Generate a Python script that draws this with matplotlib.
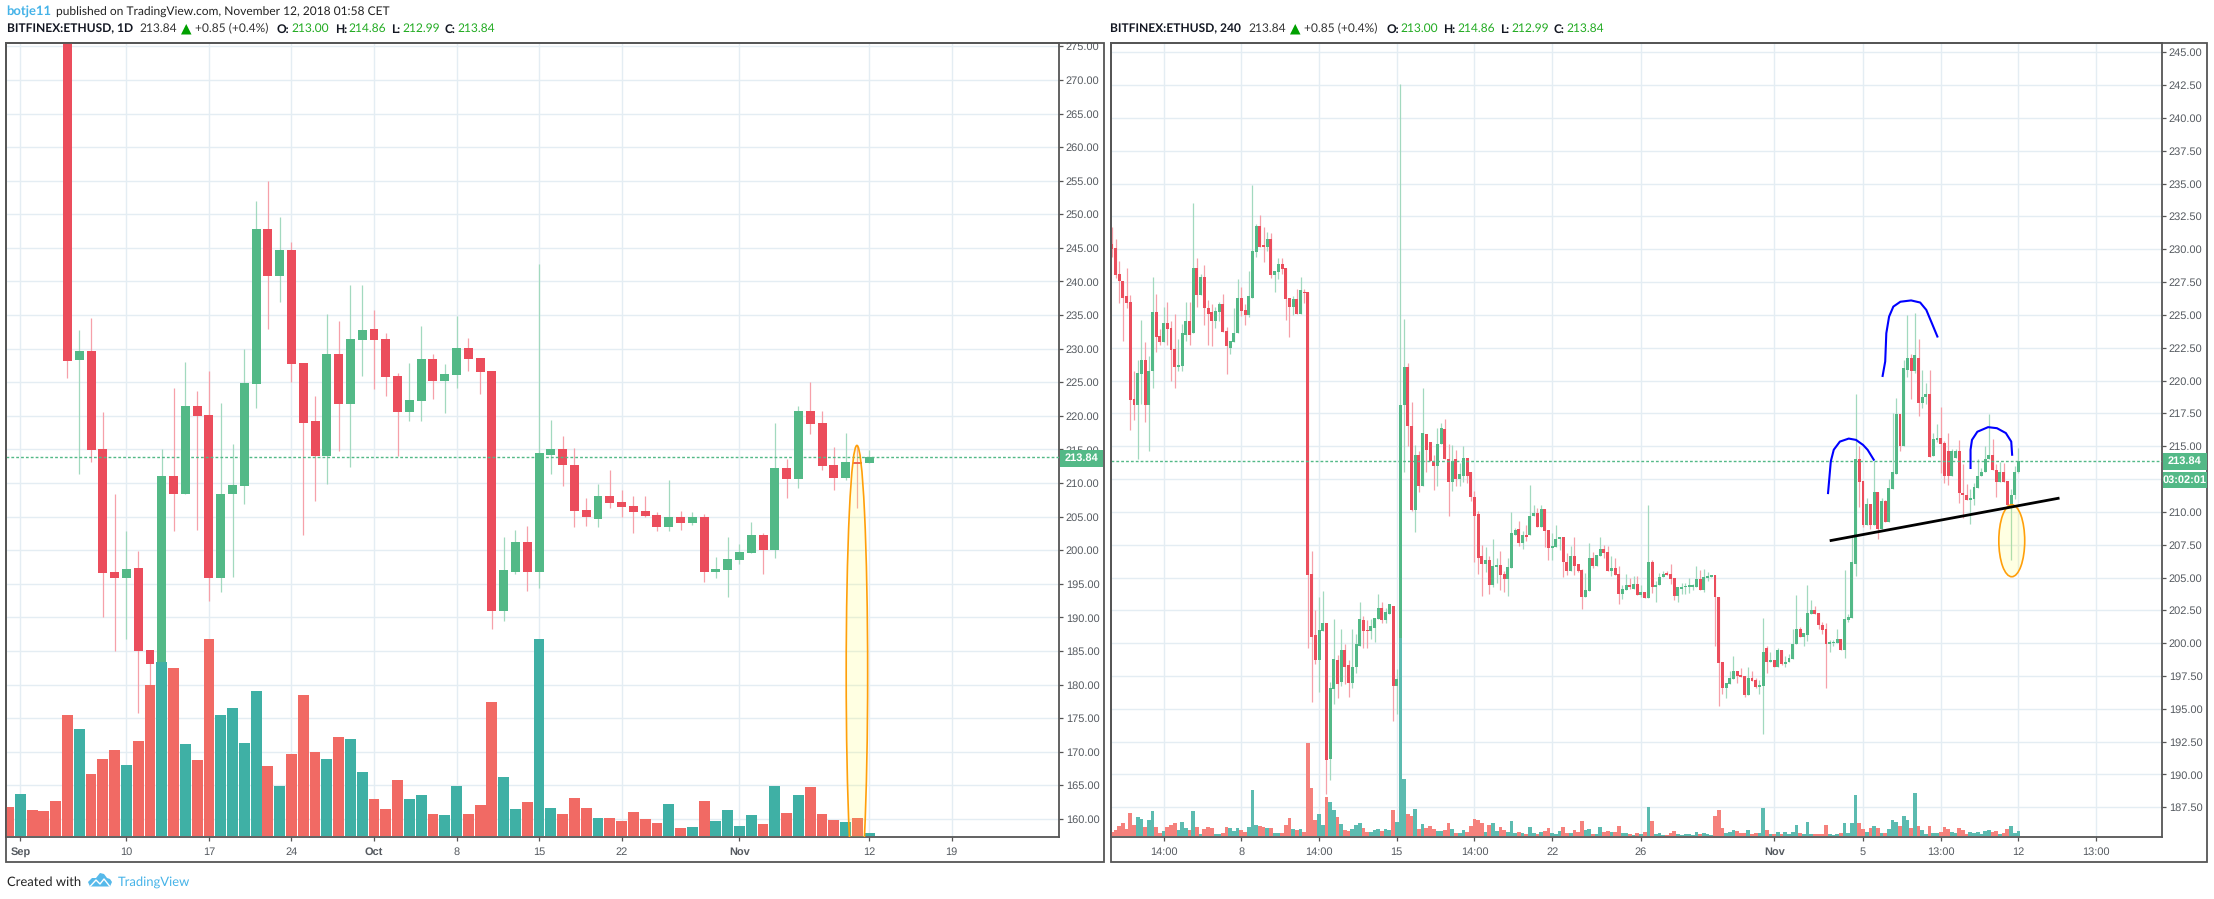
import numpy as np
import matplotlib
matplotlib.use("Agg")
import matplotlib.pyplot as plt
from matplotlib.patches import Ellipse, Rectangle, Polygon
from matplotlib.lines import Line2D

plt.rcParams["text.hinting"] = "no_hinting"
plt.rcParams["text.hinting_factor"] = 1

W, H = 2214, 899

# ---- daily chart (left); first candle is bar 4 = Sep 5
l_first = 4
l_open = [288,228.3,229.6,215,196.7,195.9,197.4,185.2,183,211.1,
          208.3,221.45,220.1,195.9,208.3,209.6,224.7,247.8,240.8,244.7,
          227.85,219.2,214,229.2,221.75,231.3,232.9,231.4,225.9,220.6,
          222.2,228.4,225.2,226.1,230.1,228.6,226.7,191,196.8,201.3,
          196.7,214.2,215,212.7,206,204.7,208.1,207.2,206.6,205.9,
          205.3,203.5,205,204.1,205,196.8,197.1,198.6,199.6,202.2,
          200.1,212.3,210.6,220.7,218.9,212.7,210.8,213.2,213]
l_high = [288,232.8,234.6,220.6,208.4,202.8,199.9,185.2,215.1,224.2,
          228,223.7,226.7,221.9,215.8,229.9,252,255,249.6,245.9,
          227.85,222.9,235.1,234.1,239.5,239.5,235.7,232.3,226.4,227.9,
          233.4,229.2,227.7,234.8,231.6,228.6,226.7,201.9,203,203.65,
          242.6,219.4,217,215.2,207.8,209.9,212,208.9,208,208,
          205.7,210.5,205.9,205.7,205.4,199,201.9,201,204.25,202.5,
          218.9,213.6,221.45,225,220.7,215.3,217.5,215.6,214.86]
l_low = [225.7,211.3,213.2,190,185.05,186.8,175.8,167.3,183,202.9,
         208.3,203,192.5,193.8,196,206.9,221.2,232.9,236.9,225,
         202.3,207.4,209.9,214.7,212.4,225.9,224,222.9,214,219.2,
         219.2,222.5,220.4,224.1,226.7,223.2,188.3,189.5,196.5,194,
         194.4,211.4,209.6,203.5,203.65,203.5,206.3,205,202.5,205,
         202.9,202.8,203.05,203.8,195.2,195.9,193.1,198,199.6,196.5,
         198.9,207.8,209.2,217.3,212,209,210.5,206.3,212.99]
l_close = [228.2,229.6,214.9,196.6,195.8,197.25,185.05,183,211.1,208.3,
           221.45,220,195.9,208.4,209.75,224.9,247.8,240.8,244.7,227.7,
           219,214,229.2,221.75,231.4,232.8,231.3,225.8,220.6,222.3,
           228.4,225.2,226.2,230.1,228.4,226.5,191,197,201.3,196.7,
           214.4,215,212.7,205.9,204.9,208.1,207.1,206.5,205.7,205.1,
           203.5,205,204.1,205,196.8,197.25,198.75,199.8,202.2,200.1,
           212.3,210.6,220.7,218.8,212.6,210.8,213.2,212.9,213.84]
# volume, relative units; first bar is -1 (Aug 31)
l_vol_first = -1
l_vol = [87,126,78,75,105,363,321,186,231,258,213,285,453,522,504,276,228,591,363,384,
         279,435,210,150,246,423,252,231,297,291,192,111,81,168,111,123,66,63,150,66,
         93,402,177,81,102,591,84,66,114,84,54,54,45,72,51,39,96,24,27,105,
         45,78,30,63,36,150,69,123,147,66,48,42,54,9]
l_vol_early_up = [False,True,False,False,False]
l_ticks = [0,9,16,23,30,37,44,51,61,72,79]
l_tick_labels = ["Sep","10","17","24","Oct","8","15","22","Nov","12","19"]
l_bold = ["Sep","Oct","Nov"]
l_price_ticks = list(range(160,276,5))

# ---- 240 minute chart (right)
r_open = [230.4,230.1,228.1,227.6,226.4,226,218.6,218.1,220.5,221.6,
 218.1,220.7,225.2,223.4,222.9,224.4,224,222.4,221,221.1,
 223.5,224.5,223.6,228.6,226.5,227.9,225.5,225.2,224.5,225.2,
 225.8,223.8,222.5,222.9,223.6,226.3,225.4,225,226.3,229.8,
 231.8,230.25,230.2,230.8,228,228.3,228.9,228.6,226.3,225.6,
 226.2,225.1,226.75,226.75,205.3,200.6,198.7,200.95,201.55,191.2,
 196.5,198.75,197.05,199.5,198.3,197,198.15,199.8,201.8,201,
 200.9,201.15,201.85,202.7,201.8,202.25,202.85,196.75,197.2,218.15,
 221,216.55,210.15,214.35,211.95,215.95,215.3,213.85,213.5,215.15,
 216.3,214.05,212.3,214,212.5,212.75,214.1,213,211.15,209.85,
 206.6,206.05,206.35,204.4,205.8,205.95,205.3,204.9,205.75,208.25,
 208.7,207.65,208.25,208.2,209.65,209.95,208.85,210.25,208.65,207.25,
 207.35,207.9,208.05,206.2,205.5,206.6,206,205.6,203.55,204,
 206.5,205.9,206.65,207.2,206.95,205.5,205.75,205.3,203.75,204.05,
 204.4,204.15,204.5,203.7,203.9,203.45,206.15,204.25,204.4,205.05,
 205.3,205.3,205,203.6,204.15,204.25,204.3,204.3,204.25,204.9,
 204.05,205,205.05,205.2,203.55,198.6,196.55,196.9,197.3,197.9,
 197.6,197.5,196.05,197.35,197.2,196.7,196.75,199.6,198.6,198.75,
 198.15,199.45,198.4,198.6,198.8,199.9,201.05,200.5,200.65,202.25,
 202.55,202.3,201.4,201.1,199.95,200,200,200.35,199.5,201.8,
 201.95,206.05,214.05,212.35,209,210.6,209,211.5,208.7,210.85,
 209.2,211.75,212.9,217.45,215,220.8,221.7,220.75,221.7,218.3,
 218.75,219,214.25,215.5,215.65,215.25,214.6,212.7,214.1,214.6,
 211.45,211.3,210.9,211,211.85,212.7,213.05,214.05,214.35,213.2,
 212.3,213.05,212.35,210.55,211.3,213.0]
r_close = [230,228.05,227.6,226.3,225.9,218.5,218.1,220.6,221.6,218.1,
 220.7,225.2,223.3,222.9,224.4,223.9,222.3,221,221.2,223.6,
 224.5,223.5,228.6,226.5,227.9,225.5,225.1,224.5,225.3,225.8,
 223.7,222.6,223,223.6,226.3,225.3,225,226.4,229.9,231.8,
 230.2,230.2,230.8,228,228.35,228.9,228.5,226.2,225.6,226.2,
 225.1,226.9,226.65,205.2,200.5,198.7,201,201.55,191.1,196.6,
 198.8,196.9,199.5,198.2,197,198.15,199.9,201.85,200.95,200.9,
 201.3,201.95,202.7,201.8,202.4,202.95,196.75,197.3,218.15,221,
 216.5,210.15,214.35,211.95,216,214.7,213.85,213.5,215.15,216.4,
 214,212.3,213.9,212.5,212.9,214.1,212.75,211.1,209.7,206.5,
 206.05,206.35,204.4,205.9,205.95,205.2,204.9,205.8,208.4,208.65,
 207.65,208.25,208.1,209.7,209.95,208.85,210.25,208.55,207.25,207.4,
 207.9,208.05,206.15,205.5,206.6,205.9,205.5,203.55,204.05,206.5,
 205.9,206.75,207.2,206.9,205.5,205.75,205.2,203.75,204.15,204.4,
 204.25,204.5,203.7,203.9,203.45,206.15,204.25,204.4,205.05,205.3,
 205.2,204.9,203.6,204.25,204.3,204.35,204.4,204.45,204.9,204.05,
 205.05,205.05,205.2,203.5,198.5,196.55,197,197.35,197.9,197.5,
 197.45,196.05,197.35,197.15,196.7,196.85,199.35,198.6,198.75,198.15,
 199.45,198.4,198.6,198.9,199.9,201.05,200.5,200.75,202.3,202.55,
 202.25,201.4,201,199.9,200.1,200.1,200.35,199.5,201.85,202,
 206.15,214.05,212.3,209,210.6,209,211.5,208.7,210.85,209.2,
 211.85,213,217.45,215,220.95,221.7,220.75,221.95,218.3,218.75,
 219,214.2,215.55,215.65,215.2,212.7,212.7,214.6,214.6,211.4,
 211.25,210.9,211.05,211.9,212.75,213.05,214.05,214.35,213.2,212.3,
 213.05,212.3,210.55,211.3,213.05,213.84]
r_high = [231.7,230.8,229.1,227.6,228.6,226.5,220.7,221.6,224.6,222.9,
 221.9,227.9,226.6,223.9,225.6,226,224.5,225.1,223.2,224.3,
 226,226,233.5,229.3,228.1,228.8,226.1,225.8,225.6,226,
 226.6,224.1,223,225.5,227.7,227.1,225.8,228.35,234.9,231.9,
 232.6,231.7,231.3,231.2,228.35,229.3,229.3,228.6,226.3,226.4,
 227,227.9,227,226.75,207,202.55,203.5,204,201.55,197.05,
 201.85,199.1,201.1,199.9,198.75,201.1,200.7,203.1,202.1,201.8,
 201.85,201.95,203.75,203.1,202.7,202.95,202.85,198.05,242.6,224.7,
 221.35,218.4,215.1,214.6,219.4,215.95,215.3,214.35,216.4,216.8,
 217.1,215.2,215.1,214.7,213.7,215.05,214.1,213,211.6,210.1,
 207.5,207.3,206.65,207.95,206.5,207,205.5,206.45,210,208.8,
 209.3,208.55,209,212.05,210.55,210.3,210.55,210.25,208.65,208.4,
 209,208.05,208.05,206.9,207.4,208.05,206,205.65,205.35,207.65,
 206.95,206.75,208.05,207.5,207.4,206.6,206.45,205.85,204.4,205.3,
 205,205.15,205.15,204.4,203.9,210.55,206.35,204.7,205.35,205.5,
 205.5,206,205,204.25,204.55,204.6,205,204.5,205.85,205.6,
 205.65,205.45,205.2,205.2,203.55,198.6,197,197.9,199.05,197.9,
 198.1,197.5,198.2,197.85,197.35,197.2,201.95,199.8,199.35,198.75,
 199.6,199.45,199.05,199.15,201.05,203.7,201.25,200.75,204.4,203.25,
 202.85,202.3,201.65,201.5,200.25,200.25,201.05,200.35,205.6,202.2,
 208.05,219,215,212.35,211.05,210.6,213.9,211.5,211.05,210.9,
 212.5,217.5,218.7,217.45,221.6,225,222.05,225.15,223.2,220.8,
 219.8,220.8,216,216.7,218,215.4,216,214.8,214.75,215.5,
 213.65,212.15,211.75,212.2,214,213.35,215,217.45,215.55,213.65,
 213.8,213.75,212.35,211.75,213.5,214.86]
r_low = [229.4,227.8,225.9,223,225.5,216.2,217,214.05,218.2,216.85,
 214.6,219.4,222.2,222.7,222.9,222.7,220,219.4,220.7,220.7,
 223,222.7,223.6,225.6,226.5,224.2,222.7,222.6,224,224.5,
 223.7,220.5,222,222.9,223.6,224.9,224.2,224.85,226.3,229.4,
 230.2,229,229.9,227.8,226.75,227.7,228.1,224.6,223.3,225,
 225.1,225.1,225.9,199.6,195.5,198.4,196.3,200.95,188.5,189.6,
 195.4,195.85,196.75,196.9,195.9,196.6,197.7,199.8,199.6,199.65,
 200.3,200.1,201.85,201.55,201.55,202.25,194.1,194.6,196.7,213.05,
 215,210.1,208.5,211.5,211.95,213,213.85,211.7,211.95,215.15,
 214,209.7,211.6,212,212,212.3,212.2,210.85,206.2,205.3,
 203.6,205.45,203.75,204.3,204.55,204.05,203.9,203.6,205.75,208.25,
 207.4,207.2,207.8,208.2,209.65,208.85,208.85,207.35,206.35,206.3,
 207.35,207.1,205.05,205.2,205.5,205.2,205.45,202.6,203.55,204,
 205.75,205.9,206.65,206.5,205.5,205.15,205.2,202.95,203.4,204.05,
 204.1,204.15,203.7,203.55,203.45,203.45,203.85,203.15,204.4,205.05,
 205.2,204.5,203.25,203.15,203.75,203.75,203.85,204.05,204.25,204.05,
 203.9,204.7,205.05,199.75,195.25,196.1,195.85,196.9,197.3,197,
 197.45,195.9,196.05,197.15,196.6,196.15,193.1,197.7,198.6,198.15,
 198.15,198.3,198.15,198.6,198.8,199.9,200.5,199.75,200.2,202.25,
 202.25,201.1,200.7,196.55,199.35,199.75,200,199.5,198.9,201.65,
 201.95,205.15,210.4,208.85,209,208.7,209,207.9,208.7,209.2,
 209.2,211.75,212.9,214.6,215,220.3,218.6,220.55,217.3,217.9,
 218.2,214.2,214.25,215.3,212.95,212.2,212.05,212.7,214.1,210.7,
 209.55,210.9,209.1,210.55,211.85,212.7,213.05,214.05,213.2,211.1,
 212.3,212.3,210.55,206.35,210.95,212.99]
r_vol = [12,18,30,39,21,69,33,57,51,27,48,75,27,9,15,27,33,39,18,42,
 24,18,75,27,6,21,27,24,6,6,9,27,24,15,24,18,12,27,138,33,
 30,27,24,24,9,9,9,33,54,21,18,21,12,279,144,48,66,33,117,102,
 78,57,36,18,15,21,33,39,24,12,12,18,21,15,21,18,78,42,592,171,
 66,60,81,21,36,24,30,21,15,15,18,39,21,9,9,18,12,30,51,48,
 39,12,33,39,15,27,18,12,45,9,12,9,6,27,9,6,12,15,24,9,
 6,15,27,9,9,18,12,45,18,21,6,6,27,12,15,12,12,30,9,9,
 6,3,9,6,12,87,45,6,9,3,3,9,15,6,3,6,6,3,12,6,
 9,6,3,60,78,24,9,12,18,15,9,9,18,6,9,9,84,18,6,6,
 12,6,12,6,12,33,9,6,42,6,6,6,6,33,6,3,6,9,39,9,
 39,123,39,21,12,24,30,24,9,9,21,48,42,30,60,48,24,129,30,18,
 6,30,9,9,12,27,21,12,9,24,18,6,12,9,12,6,15,18,12,15,
 6,9,21,30,9,15]
r_ticks = [14,35,56,77,98,119,143,179,203,224,245,266]
r_tick_labels = ["14:00","8","14:00","15","14:00","22","26","Nov","5","13:00","12","13:00"]
r_bold = ["Nov"]
r_price_ticks = [187.5+2.5*k for k in range(24)]

last_price = 213.84

# ---- drawings on the right chart (bar, price)
trend_x, trend_y = [194,256.1],[207.8,211.05]
head_x = [208.3,209,209.3,210.05,211.2,213.1,216,218.45,220.1,221.6,223.1]
head_y = [220.35,221.45,223.6,224.87,225.63,226,226.1,225.94,225.38,224.37,223.35]
lsh_x = [193.55,194.3,195.1,196.75,199.15,201.1,203,204.26,205.9]
lsh_y = [211.43,213.85,214.73,215.35,215.58,215.48,215.1,214.72,213.97]
rsh_x = [232.06,232.06,232.45,233.9,236.8,239.2,241.6,243.06,243.3]
rsh_y = [213.34,214.73,215.48,216.1,216.45,216.37,216,215.35,214.35]

UP, DOWN = "#53b987", "#eb4d5c"
UPW, DOWNW = "#a2d9bf", "#f6a0a9"
GRID = "#e4edf3"
FRAME = "#555555"
LAB = "#555a60"
AXFONT = ["Liberation Sans","DejaVu Sans"]
TXFONT = ["Lato","DejaVu Sans"]

fig = plt.figure(figsize=(W/100,H/100),dpi=100,facecolor="white")

def rect(x0,y0,x1,y1):
    return [x0/W,1-y1/H,(x1-x0)/W,(y1-y0)/H]

def ftext(x,y,s,**k):
    k.setdefault("family",TXFONT); k.setdefault("fontsize",8.65); k.setdefault("va","center")
    fig.text(x/W,1-y/H,s,**k)

def panel(box,outer,xlim,ylim,first,o,h,l,c,vfirst,vol,vup,ticks,labels,bold,pticks,pfmt,
          bodyw,volw,volup,voldown):
    x0,y0,x1,y1 = box
    fig.add_artist(Rectangle((x0/W,1-outer[1]/H),(outer[0]-x0)/W,(outer[1]-y0)/H,
        transform=fig.transFigure,fill=False,ec=FRAME,lw=1.3))
    ax = fig.add_axes(rect(*box))
    ax.set_xlim(*xlim); ax.set_ylim(*ylim)
    o,h,l,c = map(np.array,(o,h,l,c))
    x = first+np.arange(len(o))
    up = c>=o
    ax.set_axisbelow(True)
    ax.set_xticks(ticks); ax.set_xticklabels(labels)
    ax.set_yticks(pticks); ax.set_yticklabels([pfmt%p for p in pticks])
    ax.yaxis.tick_right()
    ax.grid(True,color=GRID,lw=1.0)
    ax.tick_params(axis="both",length=3,width=0.9,color=FRAME,labelcolor=LAB,labelsize=8.0,pad=2)
    for t in ax.get_xticklabels()+ax.get_yticklabels():
        t.set_family(AXFONT)
    for t in ax.get_xticklabels():
        t.set_fontsize(8.0)
        if t.get_text() in bold: t.set_fontweight("bold")
    ax.tick_params(axis="x",pad=4)
    for s in ax.spines.values():
        s.set_color(FRAME); s.set_linewidth(1.3)
    ax.vlines(x,l,h,colors=[UPW if u else DOWNW for u in up],lw=0.9,zorder=2)
    bot = np.minimum(o,c); hgt = np.maximum(np.abs(c-o),(ylim[1]-ylim[0])/794*1.5)
    ax.bar(x,hgt,bottom=bot,width=bodyw,color=[UP if u else DOWN for u in up],lw=0,zorder=3)
    ax.axhline(last_price,color=UP,lw=1.0,ls=(0,(2,1.5)),zorder=4)
    va = fig.add_axes(rect(*box),sharex=ax)
    va.set_ylim(-4,2378)
    va.patch.set_alpha(0); va.axis("off")
    vx = vfirst+np.arange(len(vol))
    va.bar(vx,vol,width=volw,color=[volup if u else voldown for u in vup],lw=0,zorder=3)
    da = fig.add_axes(rect(*box),sharex=ax,sharey=ax)
    da.patch.set_alpha(0); da.axis("off")
    return ax,da

ELFILL = (1,1,0.2,0.14)
# left pane
up_flags = np.array(l_close)>=np.array(l_open)
l_vup = l_vol_early_up+list(up_flags)
axL,daL = panel((6.4,43.3,1059,837),(1104,862),(-1.18,88.1),(157.32,275.45),l_first,
    l_open,l_high,l_low,l_close,l_vol_first,l_vol,l_vup,l_ticks,l_tick_labels,l_bold,
    l_price_ticks,"%.2f",0.76,0.92,"#3fb0a5","#f16a64")
daL.add_patch(Ellipse((70.96,181.6),1.82,68,fc=ELFILL,ec="#ff9f0a",lw=1.2,zorder=5,clip_on=True))

# right pane
r_vup = list(np.array(r_close)>=np.array(r_open))
axR,daR = panel((1110.7,43.3,2162,837),(2207,862),(-0.3,283.8),(185.24,245.68),0,
    r_open,r_high,r_low,r_close,0,r_vol,r_vup,r_ticks,r_tick_labels,r_bold,
    r_price_ticks,"%.2f",0.8,1.0,"#5cbbb0","#f5817c")
daR.plot(trend_x,trend_y,color="black",lw=2.0,zorder=6,solid_capstyle="butt")
for xs,ys in ((head_x,head_y),(lsh_x,lsh_y),(rsh_x,rsh_y)):
    daR.plot(xs,ys,color="#0000ff",lw=1.5,zorder=6,solid_joinstyle="round")
daR.add_patch(Ellipse((243.2,207.8),7.0,5.48,fc=ELFILL,ec="#ff9f0a",lw=1.2,zorder=5))

# price and countdown labels
def flag(x0,y0,x1,y1,s,**k):
    fig.add_artist(Rectangle((x0/W,1-y1/H),(x1-x0)/W,(y1-y0)/H,transform=fig.transFigure,fc=UP,ec="none"))
    ftext((x0+x1)/2,(y0+y1)/2,s,family=AXFONT,fontsize=k.get("fs",8.0),color="white",ha="center",fontweight="bold")
flag(1059.5,450,1103.4,467,"213.84")
flag(2162.5,453,2206.5,470,"213.84")
flag(2162.5,472,2206.5,488,"03:02:01",fs=7.6)

# header
BOLDFS = 8.35
ftext(6.7,12,"botje11",color="#45b3e8",fontweight="bold",fontsize=9.2)
ftext(55.7,12,"published on TradingView.com, November 12, 2018 01:58 CET",color="#222222")
GREEN = "#22ab22"
def header(x,title,pos):
    ftext(x[0],29,title,fontweight="bold",color="#131722",fontsize=BOLDFS)
    ftext(x[1],29,"213.84",color="#333333")
    fig.add_artist(Polygon([[x[2]/W,1-34.5/H],[(x[2]+10.5)/W,1-34.5/H],[(x[2]+5.25)/W,1-24/H]],
        transform=fig.transFigure,fc="#00a000",ec="none"))
    ftext(x[3],29,"+0.85 (+0.4%)",color="#333333")
    for (lx,vx,lab,val) in pos:
        ftext(lx,29,lab,fontweight="bold",color="#131722",fontsize=BOLDFS)
        ftext(vx,29,val,color=GREEN)
header([6.7,139,181,195,],"BITFINEX:ETHUSD, 1D",
    [(277,291,"O:","213.00"),(335,348,"H:","214.86"),(391,402.5,"L:","212.99"),(445,457.5,"C:","213.84")])
header([1110.4,1248,1290,1303.6],"BITFINEX:ETHUSD, 240",
    [(1386.4,1400,"O:","213.00"),(1443,1457,"H:","214.86"),(1500,1511,"L:","212.99"),(1554,1566,"C:","213.84")])

# footer
ftext(6.7,882,"Created with",color="#222222",fontsize=9.3)
ftext(118,882,"TradingView",color="#45b3e8",fontsize=9.4)
logo = [(88,882),(92,878),(96,878),(100,873),(104,874),(107,878),(110,879),(112,882),(110,886.5),(90,886.5)]
fig.add_artist(Polygon([[a/W,1-b/H] for a,b in logo],transform=fig.transFigure,fc="#56b9ea",ec="none"))
zig_x = [90.5,96,100,104,109.5]
zig_y = [886,880,884,879,886]
fig.add_artist(Line2D([a/W for a in zig_x],[1-b/H for b in zig_y],transform=fig.transFigure,color="white",lw=1.0))

fig.savefig("out.png",dpi=100,facecolor="white")
